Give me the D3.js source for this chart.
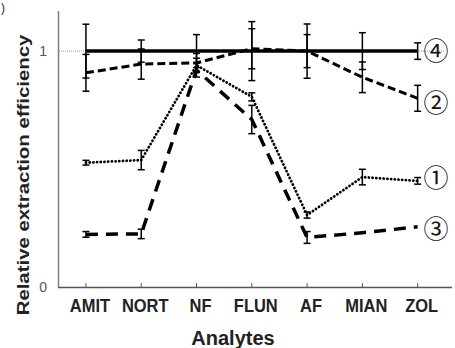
<!DOCTYPE html>
<html><head><meta charset="utf-8">
<script src="https://cdn.jsdelivr.net/npm/d3@7"></script>
<style>body{margin:0;background:#fff}svg{display:block}</style>
</head><body><svg id="c" width="455" height="348"></svg>
<script>
const categories = ["AMIT","NORT","NF","FLUN","AF","MIAN","ZOL"];
const s1 = [0.527,0.538,0.94,0.806,0.305,0.466,0.45];
const s1err = [0.01,0.041,0.03,0.017,0.013,0.033,0.014];
const s2 = [0.908,0.945,0.95,1.01,1.0,0.889,0.80];
const s2err = [0.078,0.064,0.04,0.085,0.07,0.065,0.055];
const s3 = [0.223,0.225,0.92,0.71,0.21,0.23,0.255];
const s3err = [0.012,0.02,0.03,0.06,0.025,0,0];
const s4 = [1,1,1,1,1,1,1];
const s4err = [0.114,0.047,0.07,0.125,0.115,0.078,0.035];
const seriesLabels = ["①","②","③","④"];
const yTicks = [0,1];

const FONT = "Liberation Sans, Arial, sans-serif";
const svg = d3.select("#c");
const x = d3.scaleBand().domain(categories).range([58.3,445.3]);
const cx = d => x(d) + x.bandwidth()/2;
const y = d3.scaleLinear().domain([0,1.17]).range([287,11]);

// gridline at 1
svg.append("line").attr("x1",59).attr("x2",445).attr("y1",y(1)).attr("y2",y(1))
  .attr("stroke","#999").attr("stroke-width",1).attr("stroke-dasharray","1,1");

// y axis
svg.append("line").attr("x1",58.5).attr("x2",58.5).attr("y1",y(1.17)).attr("y2",y(0))
  .attr("stroke","#808080").attr("stroke-width",1.5);
svg.selectAll(".yt").data(yTicks).enter().append("text")
  .attr("x",47).attr("y",d=>y(d)).attr("dy","0.36em").attr("text-anchor","end")
  .attr("font-family",FONT).attr("font-size",14).attr("fill","#555")
  .text(d=>d);

// x axis
const xa = svg.append("g").attr("transform","translate(0,287)")
  .call(d3.axisBottom(x).tickSizeInner(-4).tickSizeOuter(0).tickPadding(0));
xa.select(".domain").remove();
xa.selectAll(".tick line").attr("stroke","#555").attr("stroke-width",1);
xa.selectAll(".tick text").attr("font-family",FONT).attr("dy",null).attr("y",null)
  .attr("transform","translate(4,24.5) scale(1,1.12)")
  .attr("font-size",16.5).attr("font-weight","bold").attr("fill","#222");
svg.append("line").attr("x1",58).attr("x2",452).attr("y1",287.5).attr("y2",287.5)
  .attr("stroke","#555").attr("stroke-width",1.5);

// axis titles
svg.append("text").attr("x",233).attr("y",345).attr("text-anchor","middle")
  .attr("font-family",FONT).attr("font-size",20).attr("font-weight","bold")
  .attr("fill","#222").text("Analytes");
svg.append("text").attr("transform","translate(29,175) scale(1,1.25) rotate(-90)").attr("text-anchor","middle")
  .attr("font-family",FONT).attr("font-size",16.3).attr("font-weight","bold")
  .attr("fill","#222").text("Relative extraction efficiency");
svg.append("text").attr("x",1).attr("y",12).attr("font-family",FONT)
  .attr("font-size",12).attr("fill","#222").text(")");

const series = [
  {v:s4, e:s4err, w:3.5, dash:null, cap:"butt", lab:seriesLabels[3], ly:0},
  {v:s2, e:s2err, w:3, dash:"8,4", cap:"butt", lab:seriesLabels[1], ly:5},
  {v:s1, e:s1err, w:2.8, dash:"0.1,3.6", cap:"round", lab:seriesLabels[0], ly:-3},
  {v:s3, e:s3err, w:3.5, dash:"12,8", cap:"butt", lab:seriesLabels[2], ly:2}
];
const line = d3.line().x((d,i)=>cx(categories[i])).y(d=>y(d));
series.forEach(s=>{
  const g = svg.append("g");
  g.append("path").datum(s.v).attr("d",line).attr("fill","none").attr("stroke","#000")
    .attr("stroke-width",s.w).attr("stroke-dasharray",s.dash).attr("stroke-linecap",s.cap);
  s.v.forEach((v,i)=>{
    const e = s.e[i]; if(e<=0) return;
    const X = cx(categories[i]);
    g.append("line").attr("x1",X).attr("x2",X).attr("y1",y(v+e)).attr("y2",y(v-e))
      .attr("stroke","#000").attr("stroke-width",1.5);
    [v+e,v-e].forEach(t=>g.append("line").attr("x1",X-3.5).attr("x2",X+3.5).attr("y1",y(t)).attr("y2",y(t))
      .attr("stroke","#000").attr("stroke-width",1.5));
  });
  g.append("text").attr("x",423.5).attr("y",y(s.v[s.v.length-1])+s.ly).attr("dy","0.36em")
    .attr("font-family","Noto Sans CJK JP, DejaVu Sans, sans-serif").attr("font-size",25).attr("fill","#111")
    .text(s.lab);
});
</script></body></html>
